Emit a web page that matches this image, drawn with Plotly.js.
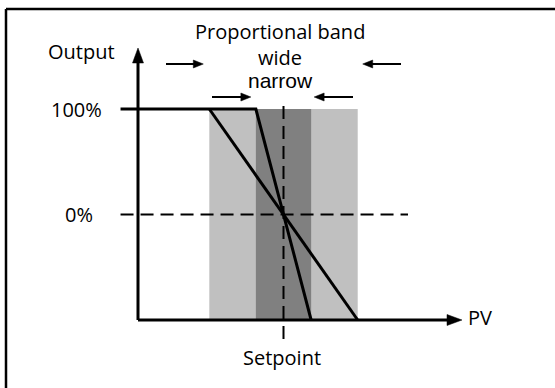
<!DOCTYPE html>
<html>
<head>
<meta charset="utf-8">
<script src="https://cdn.plot.ly/plotly-3.0.1.min.js"></script>
<style>html,body{margin:0;padding:0;background:#fff;}#chart{width:555px;height:388px;}</style>
</head>
<body>
<div id="chart"></div>
<script>
// ---- data (PV units, Output in %) ----
const outputLevels = [100, 0, -100];      // 100%, 0%, bottom of output scale
const setpoint = 50;
const wideBand = [24.5, 75.5];
const narrowBand = [40.5, 59.5];
const lineStart = -6;                      // where the 100% output line starts
const tickLabels = ["100%", "0%"];
const axisLabels = ["Output", "PV", "Setpoint"];
const titleLines = ["Proportional band", "wide", "narrow"];

// ---- layout geometry (pixels) ----
const W = 555, H = 388;
const kx = 2.91, ky = 1.055;     // px per unit
const ox = 138, oy = 214.5;      // pixel of PV=0 / Output=0
const xr = [-ox / kx, (W - ox) / kx];
const yr = [(oy - H) / ky, oy / ky];
const dx = p => p / kx, dy = p => p / ky;   // pixel lengths -> data lengths

const outTop = outputLevels[0], outZero = outputLevels[1], outBot = outputLevels[2];

const traces = [
  { x: [wideBand[0], wideBand[1], wideBand[1], wideBand[0], wideBand[0]],
    y: [outBot, outBot, outTop, outTop, outBot], fill: 'toself', fillcolor: '#c0c0c0',
    mode: 'none', type: 'scatter', hoverinfo: 'skip' },
  { x: [narrowBand[0], narrowBand[1], narrowBand[1], narrowBand[0], narrowBand[0]],
    y: [outBot, outBot, outTop, outTop, outBot], fill: 'toself', fillcolor: '#808080',
    mode: 'none', type: 'scatter', hoverinfo: 'skip' },
  { x: [lineStart, narrowBand[0], narrowBand[1]], y: [outTop, outTop, outBot],
    mode: 'lines', line: { color: '#000', width: 3 }, type: 'scatter', hoverinfo: 'skip' },
  { x: [wideBand[0], wideBand[1]], y: [outTop, outBot],
    mode: 'lines', line: { color: '#000', width: 3 }, type: 'scatter', hoverinfo: 'skip' }
];

const shapes = [];
// frame (top + left edges)
shapes.push({ type: 'line', xref: 'paper', yref: 'paper', x0: 6 / W, x1: 1.05, y0: 1 - 9 / H, y1: 1 - 9 / H, line: { color: '#000', width: 2.5 } });
shapes.push({ type: 'line', xref: 'paper', yref: 'paper', x0: 6 / W, x1: 6 / W, y0: 1 - 9 / H, y1: -0.05, line: { color: '#000', width: 2.5 } });

// axes
const yTip = outBot + dy(320 - 48), xTip = dx(462 - 138);
shapes.push({ type: 'line', x0: 0, x1: 0, y0: outBot, y1: yTip - dy(10), line: { color: '#000', width: 3 } });
shapes.push({ type: 'line', x0: 0, x1: xTip - dx(10), y0: outBot, y1: outBot, line: { color: '#000', width: 3 } });
function head(xt, yt, dir, len, hw) {
  let p;
  if (dir === 'up') p = `M ${xt} ${yt} L ${xt - dx(hw)} ${yt - dy(len)} L ${xt + dx(hw)} ${yt - dy(len)} Z`;
  else if (dir === 'right') p = `M ${xt} ${yt} L ${xt - dx(len)} ${yt + dy(hw)} L ${xt - dx(len)} ${yt - dy(hw)} Z`;
  else p = `M ${xt} ${yt} L ${xt + dx(len)} ${yt + dy(hw)} L ${xt + dx(len)} ${yt - dy(hw)} Z`;
  return { type: 'path', path: p, fillcolor: '#000', line: { color: '#000', width: 0.5 } };
}
shapes.push(head(0, yTip, 'up', 15, 5.5));
shapes.push(head(xTip, outBot, 'right', 15, 5.5));

// dashed reference lines
shapes.push({ type: 'line', x0: lineStart, x1: dx(408 - 138), y0: outZero, y1: outZero, line: { color: '#000', width: 2, dash: '13px,7px' } });
shapes.push({ type: 'line', x0: setpoint, x1: setpoint, y0: outTop + dy(3), y1: outBot - dy(20), line: { color: '#000', width: 2, dash: '13px,7px' } });

// band-direction arrows
function arrow(x0, x1, y) {
  const dir = x1 > x0 ? 'right' : 'left';
  const s = x1 > x0 ? -1 : 1;
  shapes.push({ type: 'line', x0: x0, x1: x1 + s * dx(6), y0: y, y1: y, line: { color: '#000', width: 2 } });
  shapes.push(head(x1, y, dir, 10, 4));
}
const wideY = dy(oy - 64), narrowY = dy(oy - 97);
arrow(dx(166 - ox), wideBand[0] - dx(6), wideY);
arrow(dx(401 - ox), wideBand[1] + dx(5), wideY);
arrow(dx(212 - ox), narrowBand[0] - dx(5), narrowY);
arrow(dx(353 - ox), narrowBand[1] + dx(3), narrowY);

const f = { family: 'Open Sans, sans-serif', size: 20, color: '#000' };
const annotations = [
  { x: dx(81 - ox), y: dy(oy - 51), text: axisLabels[0], showarrow: false, font: f },
  { x: dx(76 - ox), y: outTop, text: tickLabels[0], showarrow: false, font: f },
  { x: dx(79 - ox), y: outZero, text: tickLabels[1], showarrow: false, font: f },
  { x: dx(466 - ox), y: outBot + dy(3), text: axisLabels[1], showarrow: false, xanchor: 'left', font: f },
  { x: setpoint - dx(1.5), y: dy(oy - 357), text: axisLabels[2], showarrow: false, font: f },
  { x: setpoint - dx(3.5), y: dy(oy - 31), text: titleLines[0], showarrow: false, font: f },
  { x: setpoint - dx(3.5), y: dy(oy - 57), text: titleLines[1], showarrow: false, font: f },
  { x: setpoint - dx(3.5), y: dy(oy - 80), text: titleLines[2], showarrow: false,
    font: { family: 'Liberation Sans, Arial, sans-serif', size: 21, color: '#000' } }
];

const layout = {
  width: W, height: H,
  margin: { l: 0, r: 0, t: 0, b: 0 },
  paper_bgcolor: '#fff', plot_bgcolor: '#fff',
  showlegend: false,
  xaxis: { range: xr, visible: false, fixedrange: true },
  yaxis: { range: yr, visible: false, fixedrange: true },
  shapes: shapes,
  annotations: annotations
};
Plotly.newPlot('chart', traces, layout, { displayModeBar: false, staticPlot: true });
</script>
</body>
</html>
